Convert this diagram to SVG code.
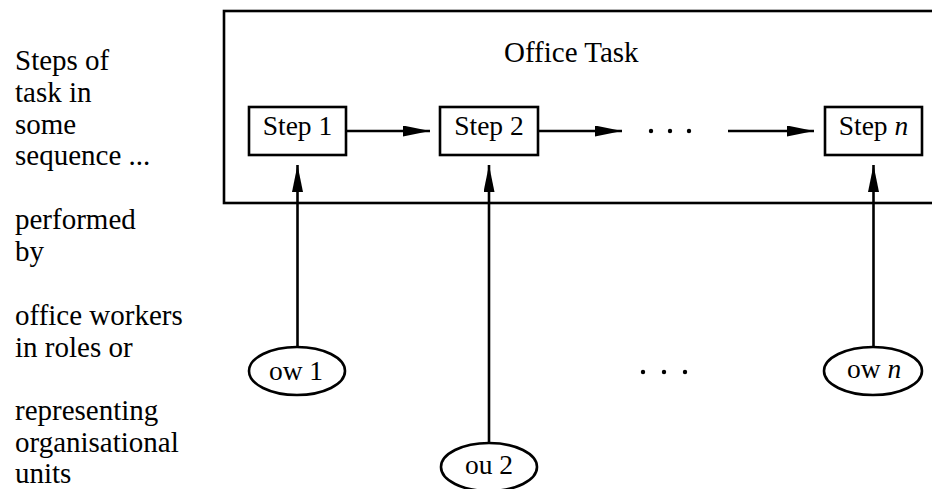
<svg xmlns="http://www.w3.org/2000/svg" width="932" height="489" viewBox="0 0 932 489">
<defs>
<marker id="ah" markerUnits="userSpaceOnUse" markerWidth="28" markerHeight="12" refX="27" refY="5.5" orient="auto">
<path d="M0,0 L27,5.5 L0,11 z" fill="#000"/>
</marker>
<style>
text{font-family:"Liberation Serif","Times New Roman",serif;font-size:29px;fill:#000}
.box{fill:#fff;stroke:#000;stroke-width:2.6}
.lbl{text-anchor:middle;font-size:27.5px}
.conn line{stroke:#000;stroke-width:2.6;marker-end:url(#ah)}
.dot{fill:#000}
</style>
</defs>
<rect width="932" height="489" fill="#fff"/>
<g id="legend">
<text x="15" y="70">Steps of</text>
<text x="15" y="102">task in</text>
<text x="15" y="134">some</text>
<text x="15" y="165">sequence ...</text>
<text x="15" y="229">performed</text>
<text x="15" y="261">by</text>
<text x="15" y="325">office workers</text>
<text x="15" y="357">in roles or</text>
<text x="15" y="420">representing</text>
<text x="15" y="452">organisational</text>
<text x="15" y="483">units</text>
</g>
<g id="office-task">
<rect class="box" x="224" y="11" width="720" height="192"/>
<text x="504" y="62" font-size="28">Office Task</text>
</g>
<g id="step1">
<rect class="box" x="249" y="107" width="97" height="48"/>
<text class="lbl" x="297.5" y="135">Step 1</text>
</g>
<g id="step2">
<rect class="box" x="440" y="107" width="98" height="48"/>
<text class="lbl" x="489" y="135">Step 2</text>
</g>
<g id="stepn">
<rect class="box" x="825" y="107" width="97" height="48"/>
<text class="lbl" x="873.5" y="135">Step <tspan font-style="italic">n</tspan></text>
</g>
<g id="ow1">
<ellipse class="box" cx="297" cy="371" rx="48" ry="24"/>
<text class="lbl" x="296" y="380">ow 1</text>
</g>
<g id="ou2">
<ellipse class="box" cx="489" cy="467" rx="48" ry="24"/>
<text class="lbl" x="489" y="474">ou 2</text>
</g>
<g id="own">
<ellipse class="box" cx="873" cy="371" rx="49" ry="24"/>
<text class="lbl" x="874" y="378">ow <tspan font-style="italic">n</tspan></text>
</g>
<g id="ellipsis-steps">
<circle class="dot" cx="651" cy="131" r="2.2"/>
<circle class="dot" cx="670" cy="131" r="2.2"/>
<circle class="dot" cx="689" cy="131" r="2.2"/>
</g>
<g id="ellipsis-workers">
<circle class="dot" cx="643" cy="372" r="2.2"/>
<circle class="dot" cx="664" cy="372" r="2.2"/>
<circle class="dot" cx="685" cy="372" r="2.2"/>
</g>
<g id="connectors" class="conn">
<line x1="347" y1="131" x2="430" y2="131"/>
<line x1="539" y1="131" x2="622" y2="131"/>
<line x1="728" y1="131" x2="814" y2="131"/>
<line x1="297.5" y1="347" x2="297.5" y2="165"/>
<line x1="489" y1="443" x2="489" y2="165"/>
<line x1="873.5" y1="347" x2="873.5" y2="165"/>
</g>
</svg>
